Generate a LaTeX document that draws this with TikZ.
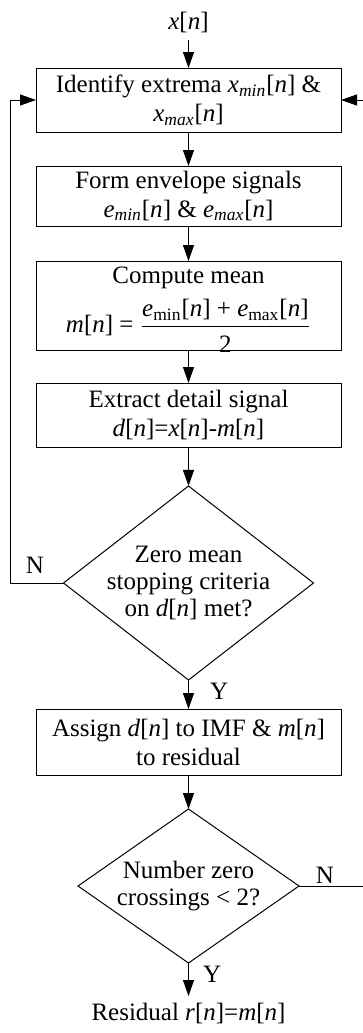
\documentclass[tikz,border=0pt]{standalone}
\usepackage{amsmath}
\usepackage{fontspec}
\setmainfont{Liberation Serif}
\usetikzlibrary{positioning, arrows.meta, shapes.geometric}

\newcommand{\sig}[1]{\textit{#1}[\textit{n}]}

\begin{document}
\begin{tikzpicture}[
    font=\fontsize{12.5}{14.5}\selectfont,
    line width=0.5pt,
    node distance = 17pt,
    box/.style = {rectangle, draw, align=center, minimum width=152.5pt, minimum height=32pt, inner sep=2pt, outer sep=0pt},
    test/.style = {diamond, draw, align=center, inner sep=-10pt, outer sep=0pt, aspect=1.3, font=\fontsize{12.5}{13.5}\selectfont},
    arrow/.style = {-{Triangle[length=8pt, width=5.5pt]}},
    lbl/.style = {inner sep=0pt}
]
    \useasboundingbox (0,0) rectangle (181.5pt,-516.5pt);

    \node[box] (ext) at (94.25pt,-50pt) {Identify extrema \textit{x}\textsubscript{\textit{min}}[\textit{n}] \&\\ \textit{x}\textsubscript{\textit{max}}[\textit{n}]};
    \node[above=14pt of ext] (in) {\sig{x}};
    \node[box, below=of ext, minimum height=30pt] (env) {Form envelope signals\\ \textit{e}\textsubscript{\textit{min}}[\textit{n}] \& \textit{e}\textsubscript{\textit{max}}[\textit{n}]};
    \node[box, below=17.5pt of env, minimum height=44.5pt] (mean) {Compute mean\\[4pt] \raisebox{0pt}[\height][5.5pt]{\sig{m} = $\dfrac{\mbox{\textit{e}\textsubscript{min}[\textit{n}] + \textit{e}\textsubscript{max}[\textit{n}]}}{\mbox{\rule{0pt}{11.4pt}2}}$}};
    \node[box, below=16.5pt of mean] (det) {Extract detail signal\\ \sig{d}=\sig{x}-\sig{m}};
    \node[test, below=19.5pt of det, minimum width=125pt, minimum height=97pt] (stop) {Zero mean\\ stopping criteria\\ on \sig{d} met?};
    \node[box, below=14.5pt of stop, minimum height=33pt] (imf) {Assign \sig{d} to IMF \& \sig{m}\\ to residual};
    \node[test, below=of imf, minimum width=110.5pt, minimum height=77pt, inner sep=-8pt, aspect=1.43] (zc) {Number zero\\ crossings < 2?};
    \node[below=16.5pt of zc] (res) {Residual \sig{r}=\sig{m}};

    % main path
    \draw[arrow] (in) -- (ext);
    \draw[arrow] (ext) -- (env);
    \draw[arrow] (env) -- (mean);
    \draw[arrow] (mean) -- (det);
    \draw[arrow] (det) -- (stop);
    \draw[arrow] (stop) -- node[lbl, right=10.5pt, pos=0.4] (y1) {Y} (imf);
    \draw[arrow] (imf) -- (zc);
    \draw[arrow] (zc) -- node[lbl, right=7pt, pos=0.35] (y2) {Y} (res);

    % loops back to the top
    \draw[arrow] (stop.west) -- ++(-26.5pt,0) |- (ext.west);
    \draw[arrow] (zc.east) -- ++(36pt,0) |- (ext.east);
    \node[lbl] (n1) at (17.5pt,-282.5pt) {N};
    \node[lbl] (n2) at (162.5pt,-437.5pt) {N};
\end{tikzpicture}
\end{document}
